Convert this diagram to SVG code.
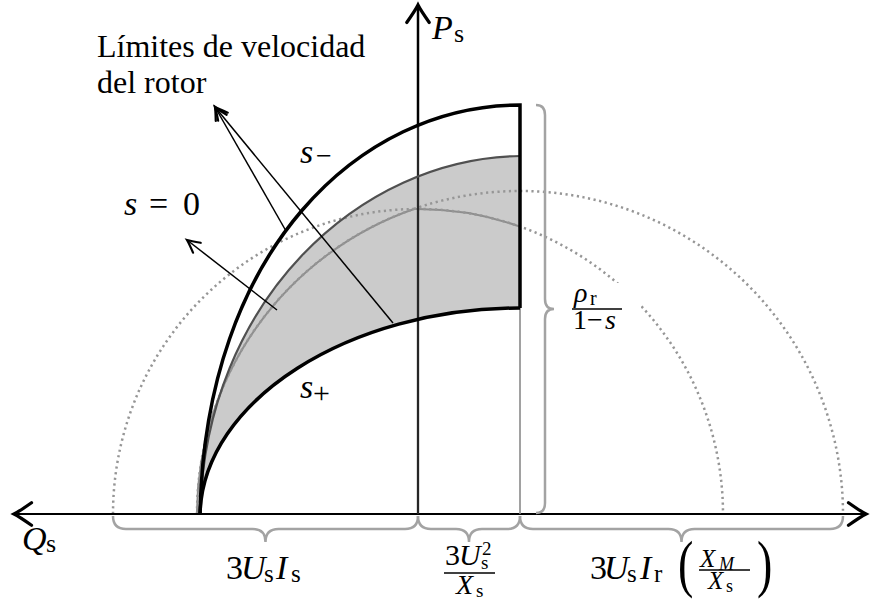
<svg xmlns="http://www.w3.org/2000/svg" width="870" height="599" viewBox="0 0 870 599">
<style>
text{font-family:"Liberation Serif","Times New Roman",serif;fill:#000}
.m{font-size:34px}
.i{font-style:italic}
.dot{fill:none;stroke:#969696;stroke-width:2.5;stroke-dasharray:2.2 3.5}
.thick{fill:none;stroke:#000;stroke-width:3.5;stroke-linejoin:miter}
.brace{fill:none;stroke:#a3a3a3;stroke-width:2.5}
.thin{fill:none;stroke:#000;stroke-width:1.5}
</style>
<defs>
<marker id="ax" markerUnits="userSpaceOnUse" markerWidth="30" markerHeight="30" viewBox="-16 -12 20 24" refX="0" refY="0" orient="auto-start-reverse" overflow="visible">
<path d="M-14,-9 Q-4,-2 0,0 Q-4,2 -14,9" fill="none" stroke="#000" stroke-width="2.6" stroke-linecap="round"/>
</marker>
<marker id="sm" markerUnits="userSpaceOnUse" markerWidth="20" markerHeight="20" viewBox="-12 -8 14 16" refX="0" refY="0" orient="auto" overflow="visible">
<path d="M-10,-5 Q-3,-1.2 0,0 Q-3,1.2 -10,5" fill="none" stroke="#000" stroke-width="1.8" stroke-linecap="round"/>
</marker>
</defs>

<g id="region">
<path id="shade" d="M200,514 C205,300 360,158 520,156 L520,308 C350,308 203,400 200,514 Z" fill="#cbcbcb"/>
<path id="s0" d="M197,514 A323,323 0 0 1 414,209 A305,305 0 0 1 520,226.6" fill="none" stroke="#8e8e8e" stroke-width="2"/>
</g>

<g id="circles">
<path id="stator-circle" class="dot" d="M113,514 A305,305 0 0 1 723,514"/>
<path id="rotor-circle" class="dot" d="M197,514 A323,323 0 0 1 843,514"/>
</g>

<g id="axes">
<line x1="14" y1="514" x2="866" y2="514" stroke="#000" stroke-width="2.2" marker-start="url(#ax)" marker-end="url(#ax)"/>
<line x1="418" y1="514" x2="418" y2="125" stroke="#262626" stroke-width="2.3"/>
<line x1="418" y1="126" x2="418" y2="5" stroke="#000" stroke-width="2.5" marker-end="url(#ax)"/>
<line x1="520" y1="308" x2="520" y2="514" stroke="#8a8a8a" stroke-width="1.6"/>
</g>

<g id="curves">
<path id="upper-boundary" d="M200,514 C205,300 360,158 520,156" fill="none" stroke="#505050" stroke-width="2.2"/>
<path id="s-minus" class="thick" d="M200,514 C205,250 360,105 520,105 L520,308"/>
<path id="s-plus" class="thick" d="M200,514 C203,400 350,308 520,308"/>
</g>

<g id="braces">
<path class="brace" d="M113,516 Q113,529 126,529 H252.5 Q265.5,529 265.5,542 Q265.5,529 278.5,529 H405 Q418,529 418,516"/>
<path class="brace" d="M418,516 Q418,529 431,529 H456 Q469,529 469,542 Q469,529 482,529 H507 Q520,529 520,516"/>
<path class="brace" d="M520,516 Q520,529 533,529 H668.5 Q681.5,529 681.5,542 Q681.5,529 694.5,529 H830 Q843,529 843,516"/>
<path class="brace" d="M536,105 Q545,105 545,115 V299 Q545,309 554,309 Q545,309 545,319 V503 Q545,513 536,513"/>
</g>

<g id="connectors">
<line class="thin" x1="286" y1="231" x2="215" y2="107" marker-end="url(#sm)"/>
<line class="thin" x1="393" y1="323" x2="215" y2="107" marker-end="url(#sm)"/>
<line class="thin" x1="277" y1="310" x2="187" y2="240" marker-end="url(#sm)"/>
</g>

<g id="labels">
<text x="97" y="57" font-size="32">Límites de velocidad</text>
<text x="97" y="93" font-size="32">del rotor</text>

<text class="m" y="39"><tspan class="i" x="432">P</tspan><tspan font-size="26" x="454" dy="3">s</tspan></text>
<text class="m" y="550"><tspan class="i" x="22">Q</tspan><tspan font-size="26" x="46" dy="2">s</tspan></text>

<text class="m" y="163"><tspan class="i" x="300">s</tspan><tspan font-size="28" x="316" dy="2">−</tspan></text>
<text class="m" y="398"><tspan class="i" x="300">s</tspan><tspan font-size="30" x="313" dy="5">+</tspan></text>

<text class="m" y="215"><tspan class="i" x="124">s</tspan><tspan x="149">=</tspan><tspan x="183">0</tspan></text>

<text class="m" y="579"><tspan x="226">3</tspan><tspan class="i" x="241">U</tspan><tspan font-size="25" x="264" dy="3">s</tspan><tspan class="i" x="276" dy="-3">I</tspan><tspan font-size="25" x="291" dy="3">s</tspan></text>

<g id="frac-us2-xs">
<text font-size="30" y="565"><tspan x="445">3</tspan><tspan class="i" x="459">U</tspan></text>
<text font-size="19" x="482" y="555">2</text>
<text font-size="19" x="481" y="569">s</text>
<line x1="444" y1="573" x2="495" y2="573" stroke="#000" stroke-width="1.4"/>
<text font-size="28" y="594"><tspan class="i" x="456">X</tspan><tspan font-size="19" x="476" dy="3">s</tspan></text>
</g>

<g id="rotor-term">
<text class="m" y="579"><tspan x="590">3</tspan><tspan class="i" x="604">U</tspan><tspan font-size="25" x="627" dy="3">s</tspan><tspan class="i" x="640" dy="-3">I</tspan><tspan font-size="25" x="654" dy="3">r</tspan></text>
<text font-size="64" x="678" y="585" transform="translate(678,0) scale(0.72,1) translate(-678,0)">(</text>
<text font-size="64" x="757" y="585" transform="translate(757,0) scale(0.72,1) translate(-757,0)">)</text>
<text font-size="25" y="567"><tspan class="i" x="700">X</tspan><tspan class="i" font-size="18" x="719" dy="3">M</tspan></text>
<line x1="699" y1="570" x2="750" y2="570" stroke="#000" stroke-width="1.3"/>
<text font-size="25" y="589"><tspan class="i" x="708">X</tspan><tspan font-size="18" x="726" dy="3">s</tspan></text>
</g>

<g id="rho-label">
<rect x="562" y="283" width="79" height="53" fill="#fff"/>
<text font-size="28" y="302"><tspan class="i" x="574">ρ</tspan><tspan font-size="20" x="590" dy="3">r</tspan></text>
<line x1="572" y1="309" x2="622" y2="309" stroke="#000" stroke-width="1.3"/>
<text font-size="28" y="329"><tspan x="573">1</tspan><tspan x="587">−</tspan><tspan class="i" x="605">s</tspan></text>
</g>
</g>
</svg>
